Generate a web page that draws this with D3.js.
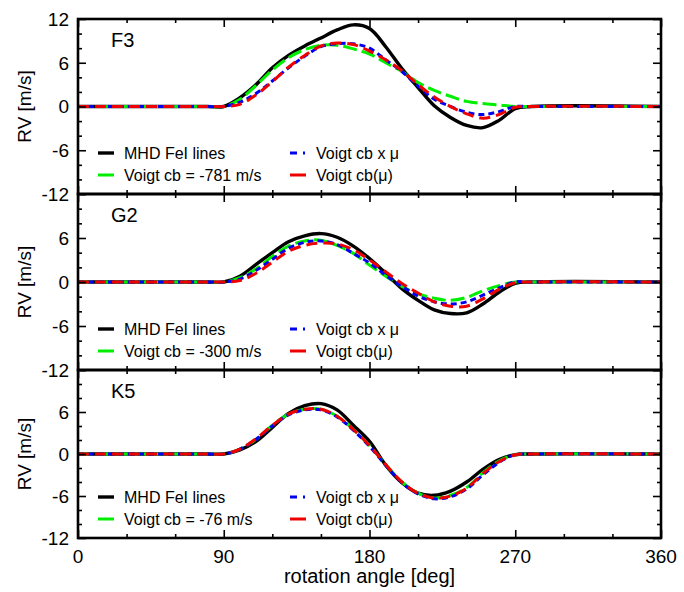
<!DOCTYPE html>
<html>
<head>
<meta charset="utf-8">
<script src="https://cdn.jsdelivr.net/npm/d3@7"></script>
<style>
  body { margin: 0; background: #fff; }
  svg text { font-family: "Liberation Sans", Arial, Helvetica, sans-serif; fill: #000; }
</style>
</head>
<body>
<div id="chart"></div>
<script>
// rotation angle grid (deg)
const angles = [0, 80, 90, 100, 110, 120, 130, 140, 150, 160, 170, 180, 190, 200, 210, 220, 230, 240, 250, 260, 270, 280, 360];

// F3 star
const f3Mhd   = [0, 0, 0, 1.2, 3.0, 5.3, 7.0, 8.3, 9.4, 10.5, 11.2, 10.7, 8.2, 5.2, 2.6, 0.1, -1.5, -2.6, -2.9, -1.9, -0.3, 0, 0];
const f3Voigt = [0, 0, 0, 1.0, 2.9, 5.0, 6.7, 7.8, 8.4, 8.4, 7.9, 7.2, 6.0, 4.8, 3.3, 2.2, 1.4, 0.7, 0.4, 0.2, 0, 0, 0];
const f3Mu    = [0, 0, 0, 0.6, 1.8, 3.5, 5.3, 6.9, 8.2, 8.6, 8.6, 8.0, 6.4, 4.8, 2.8, 1.0, 0.0, -0.8, -1.1, -0.7, 0, 0, 0];
const f3CbMu  = [0, 0, 0, 0.3, 1.6, 3.4, 5.4, 7.0, 8.3, 8.7, 8.5, 7.6, 6.4, 4.9, 3.0, 1.3, 0.0, -1.0, -1.6, -1.1, -0.1, 0, 0];

// G2 star
const g2Mhd   = [0, 0, 0, 0.8, 2.4, 4.0, 5.5, 6.3, 6.6, 6.1, 4.9, 3.2, 1.2, -0.9, -2.5, -3.8, -4.3, -4.2, -3.0, -1.4, -0.2, 0, 0];
const g2Voigt = [0, 0, 0, 0.6, 1.8, 3.5, 4.9, 5.6, 5.7, 5.0, 3.9, 2.3, 0.8, -0.6, -1.6, -2.2, -2.5, -2.1, -1.2, -0.5, 0, 0, 0];
const g2Mu    = [0, 0, 0, 0.4, 1.6, 3.1, 4.6, 5.4, 5.6, 5.1, 3.9, 2.6, 0.9, -0.6, -1.9, -2.7, -3.0, -2.7, -1.8, -0.8, 0, 0, 0];
const g2CbMu  = [0, 0, 0, 0.2, 1.2, 2.7, 4.2, 5.0, 5.3, 5.2, 4.4, 3.0, 1.4, -0.2, -1.5, -2.7, -3.3, -3.3, -2.3, -1.0, -0.1, 0, 0];

// K5 star
const k5Mhd   = [0, 0, 0, 0.6, 1.8, 3.8, 5.8, 6.9, 7.2, 6.3, 4.1, 1.8, -1.6, -4.1, -5.6, -5.9, -5.3, -4.0, -2.2, -0.8, -0.1, 0, 0];
const k5Voigt = [0, 0, 0, 0.7, 2.1, 4.1, 5.7, 6.4, 6.4, 5.4, 3.5, 1.2, -1.5, -4.0, -5.6, -6.3, -5.9, -4.8, -2.7, -1.0, -0.1, 0, 0];
const k5Mu    = [0, 0, 0, 0.7, 2.1, 4.0, 5.6, 6.3, 6.3, 5.3, 3.4, 1.1, -1.6, -4.1, -5.7, -6.4, -6.1, -5.0, -3.0, -1.2, -0.1, 0, 0];
const k5CbMu  = [0, 0, 0, 0.7, 2.2, 4.1, 5.7, 6.4, 6.4, 5.4, 3.5, 1.2, -1.5, -4.0, -5.6, -6.3, -6.0, -4.9, -2.8, -1.1, -0.1, 0, 0];

const panelNames = ["F3", "G2", "K5"];
const cbLabels = ["Voigt cb = -781 m/s", "Voigt cb = -300 m/s", "Voigt cb = -76 m/s"];
const xTickLabels = [0, 90, 180, 270, 360];
const yTickLabels = [12, 6, 0, -6, -12];

const panels = [
  {name: panelNames[0], cb: cbLabels[0], series: [f3Mhd, f3Voigt, f3Mu, f3CbMu], top: 19, bottom: 194},
  {name: panelNames[1], cb: cbLabels[1], series: [g2Mhd, g2Voigt, g2Mu, g2CbMu], top: 194, bottom: 370},
  {name: panelNames[2], cb: cbLabels[2], series: [k5Mhd, k5Voigt, k5Mu, k5CbMu], top: 370, bottom: 538}
];

const styles = [
  {color: "#000000", dash: null, width: 3.4},
  {color: "#00ee00", dash: "14,5", width: 3},
  {color: "#0000ee", dash: "6,4", width: 3},
  {color: "#ee0000", dash: "11,6", width: 3}
];

const width = 684, height = 592;
const left = 78, right = 661;

const svg = d3.select("#chart").append("svg")
  .attr("width", width)
  .attr("height", height);

const x = d3.scaleLinear().domain([0, 360]).range([left, right]);
const majorX = d3.range(0, 361, 90);
const minorX = d3.range(0, 361, 30).filter(d => d % 90 !== 0);
const majorY = [-12, -6, 0, 6, 12];
const minorY = d3.range(-12, 13, 2).filter(d => d % 6 !== 0);

panels.forEach((p, pi) => {
  const y = d3.scaleLinear().domain([-12, 12]).range([p.bottom, p.top]);
  const g = svg.append("g");

  const line = d3.line()
    .x((d, i) => x(angles[i]))
    .y(d => y(d))
    .curve(d3.curveCatmullRom.alpha(0.5));

  const clipId = "clip" + pi;
  svg.append("clipPath").attr("id", clipId)
    .append("rect")
    .attr("x", left).attr("y", p.top)
    .attr("width", right - left).attr("height", p.bottom - p.top);

  const lines = g.append("g").attr("clip-path", "url(#" + clipId + ")");
  p.series.forEach((s, si) => {
    lines.append("path")
      .datum(s)
      .attr("d", line)
      .attr("fill", "none")
      .attr("stroke", styles[si].color)
      .attr("stroke-width", styles[si].width)
      .attr("stroke-dasharray", styles[si].dash)
      .attr("stroke-linejoin", "round");
  });

  // ticks (inward, all four sides)
  const tickAxis = (axis, tx, ty) => {
    const a = g.append("g").attr("transform", "translate(" + tx + "," + ty + ")").call(axis);
    a.select(".domain").remove();
    a.selectAll("line").attr("stroke", "#000").attr("stroke-width", 1.6);
    a.selectAll("text").remove();
    return a;
  };
  tickAxis(d3.axisLeft(y).tickValues(majorY).tickSize(-8), left, 0);
  tickAxis(d3.axisLeft(y).tickValues(minorY).tickSize(-4), left, 0);
  tickAxis(d3.axisRight(y).tickValues(majorY).tickSize(-8), right, 0);
  tickAxis(d3.axisRight(y).tickValues(minorY).tickSize(-4), right, 0);
  tickAxis(d3.axisBottom(x).tickValues(majorX).tickSize(-8), 0, p.bottom);
  tickAxis(d3.axisBottom(x).tickValues(minorX).tickSize(-4), 0, p.bottom);
  tickAxis(d3.axisTop(x).tickValues(majorX).tickSize(-8), 0, p.top);
  tickAxis(d3.axisTop(x).tickValues(minorX).tickSize(-4), 0, p.top);

  // frame
  g.append("rect")
    .attr("x", left).attr("y", p.top)
    .attr("width", right - left).attr("height", p.bottom - p.top)
    .attr("fill", "none").attr("stroke", "#000").attr("stroke-width", 2.6);

  // y tick labels
  const labels = pi === 0 ? yTickLabels : yTickLabels.filter(d => d !== 12);
  g.selectAll(".ylab").data(labels).enter().append("text")
    .attr("x", left - 9)
    .attr("y", d => y(d))
    .attr("dy", "0.36em")
    .attr("text-anchor", "end")
    .attr("font-size", 19)
    .text(d => d);

  // y title
  g.append("text")
    .attr("transform", "translate(31," + ((p.top + p.bottom) / 2) + ") rotate(-90)")
    .attr("text-anchor", "middle")
    .attr("font-size", 19)
    .text("RV [m/s]");

  // panel name
  g.append("text")
    .attr("x", 111).attr("y", p.top + 28)
    .attr("font-size", 20)
    .text(p.name);

  // legend
  const legendItems = [
    {label: "MHD FeI lines", col: 0, row: 0, s: 0},
    {label: p.cb, col: 0, row: 1, s: 1},
    {label: "Voigt cb x \u03bc", col: 1, row: 0, s: 2},
    {label: "Voigt cb(\u03bc)", col: 1, row: 1, s: 3}
  ];
  const colX = [98, 290];
  const rowY = [p.bottom - 41, p.bottom - 19];
  legendItems.forEach(it => {
    const st = styles[it.s];
    g.append("line")
      .attr("x1", colX[it.col]).attr("x2", colX[it.col] + 16)
      .attr("y1", rowY[it.row]).attr("y2", rowY[it.row])
      .attr("stroke", st.color).attr("stroke-width", st.width)
      .attr("stroke-dasharray", it.s === 2 ? "7,6,2,6" : null);
    g.append("text")
      .attr("x", colX[it.col] + 26).attr("y", rowY[it.row])
      .attr("dy", "0.36em")
      .attr("font-size", 16)
      .text(it.label);
  });
});

// x tick labels and title under the last panel
const last = panels[panels.length - 1];
svg.selectAll(".xlab").data(xTickLabels).enter().append("text")
  .attr("x", d => x(d))
  .attr("y", last.bottom + 25)
  .attr("text-anchor", "middle")
  .attr("font-size", 19)
  .text(d => d);

svg.append("text")
  .attr("x", (left + right) / 2)
  .attr("y", last.bottom + 45)
  .attr("text-anchor", "middle")
  .attr("font-size", 20)
  .text("rotation angle [deg]");
</script>
</body>
</html>
